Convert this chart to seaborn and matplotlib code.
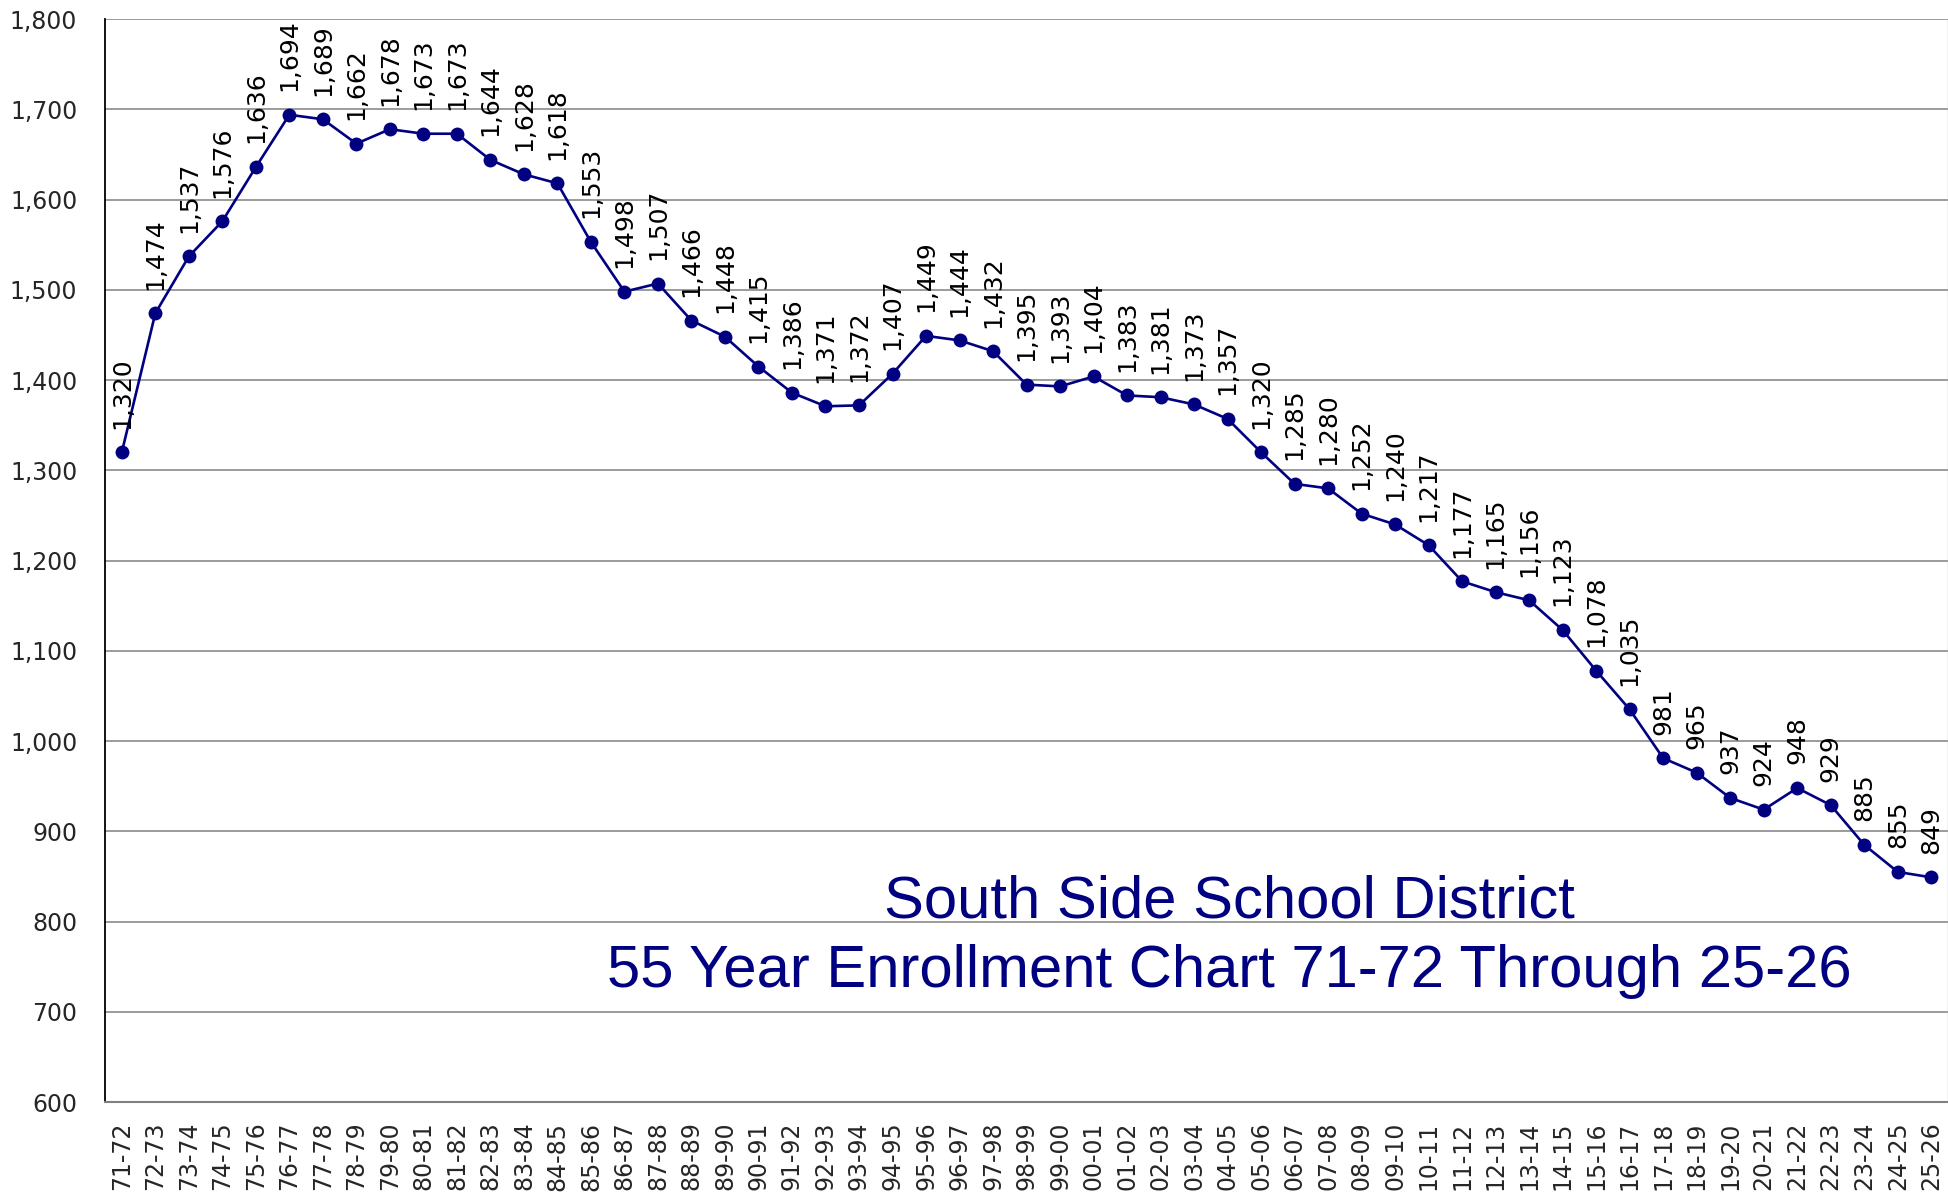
import numpy as np
import pandas as pd
import matplotlib
matplotlib.use("Agg")
import matplotlib.pyplot as plt
import seaborn as sns

# school years 71-72 .. 25-26
years = [f"{(71 + i) % 100:02d}-{(72 + i) % 100:02d}" for i in range(55)]

enrollment = [
    1320, 1474, 1537, 1576, 1636, 1694, 1689, 1662, 1678, 1673, 1673, 1644,
    1628, 1618, 1553, 1498, 1507, 1466, 1448, 1415, 1386, 1371, 1372, 1407,
    1449, 1444, 1432, 1395, 1393, 1404, 1383, 1381, 1373, 1357, 1320, 1285,
    1280, 1252, 1240, 1217, 1177, 1165, 1156, 1123, 1078, 1035, 981, 965,
    937, 924, 948, 929, 885, 855, 849,
]

y_ticks = list(range(600, 1801, 100))

title_lines = ["South Side School District",
               "55 Year Enrollment Chart 71-72 Through 25-26"]

navy = "#000080"
grid_grey = "#808080"

sns.set_theme(style="white")
plt.rcParams["font.family"] = ["DejaVu Sans"]

df = pd.DataFrame({"year": years, "enrollment": enrollment})

fig = plt.figure(figsize=(19.49, 11.94), dpi=100)
ax = fig.add_axes([0.0539, 0.077, 0.9456, 0.907])

sns.lineplot(data=df, x="year", y="enrollment", ax=ax, color=navy,
             marker="o", markersize=10, markeredgewidth=0, linewidth=1.9,
             sort=False, zorder=3)

# value labels, rotated above each point
for i, v in enumerate(enrollment):
    ax.annotate(f"{v:,}", (i, v), xytext=(0, 17), textcoords="offset points",
                rotation=90, ha="center", va="bottom", fontsize=18,
                color="black")

ax.set_xlim(-0.5, len(years) - 0.5)
ax.set_ylim(600, 1800)
ax.set_yticks(y_ticks)
ax.set_yticklabels([f"{t:,}" for t in y_ticks], fontsize=17)
ax.set_xticks(range(len(years)))
ax.set_xticklabels(years, rotation=90, fontsize=17)
ax.set_xticks(np.arange(-0.5, len(years), 1), minor=True)
ax.tick_params(axis="x", which="major", length=0, pad=14)
ax.tick_params(axis="x", which="minor", length=7, width=1.2,
               color=grid_grey, direction="out")
ax.tick_params(axis="y", length=6, width=1.2, color=grid_grey,
               direction="out", pad=14)

ax.yaxis.grid(True, color=grid_grey, linewidth=1.1)
ax.xaxis.grid(False)
ax.set_axisbelow(True)
ax.set_xlabel("")
ax.set_ylabel("")

ax.spines["left"].set_color("black")
ax.spines["left"].set_linewidth(1.3)
ax.spines["bottom"].set_color(grid_grey)
ax.spines["bottom"].set_linewidth(1.5)
ax.spines["right"].set_color("#c0c0c0")
ax.spines["right"].set_linewidth(1.0)
ax.spines["top"].set_visible(False)

# two-line title inside the plot area
ax.text(0.61, 0.170, title_lines[0], transform=ax.transAxes,
        ha="center", va="baseline", fontsize=43, color=navy,
        family=["Liberation Sans"])
ax.text(0.61, 0.106, title_lines[1], transform=ax.transAxes,
        ha="center", va="baseline", fontsize=43, color=navy,
        family=["Liberation Sans"])

fig.savefig("out.png", dpi=100)
